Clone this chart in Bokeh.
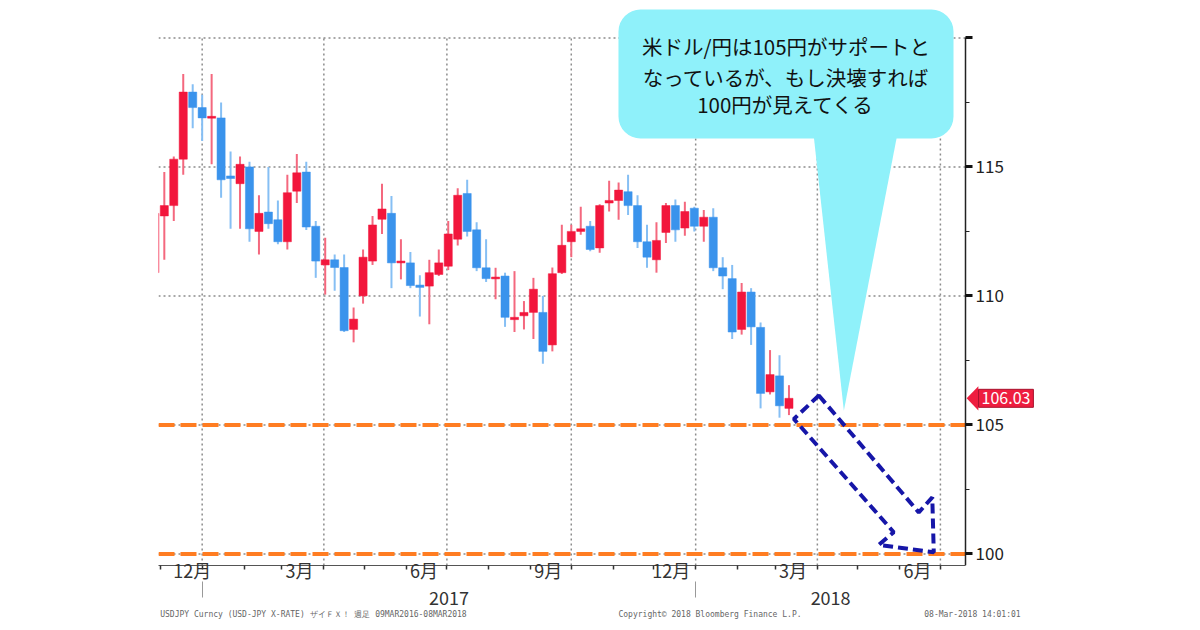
import numpy as np
import pandas as pd
from bokeh.plotting import figure
from bokeh.models import (Range1d, LinearAxis, FixedTicker, BoxAnnotation,
                          PolyAnnotation, Label, ColumnDataSource)
from bokeh.embed import file_html
from bokeh.resources import INLINE

# ---------------- data (weekly USD/JPY candles) ----------------
week_end = pd.date_range("2016-11-25", periods=68, freq="7D")
opens = [110.9, 113.1, 113.5, 115.3, 117.9, 117.3, 116.9, 116.9, 114.65, 114.35,
         115.0, 112.5, 113.25, 112.95, 112.1, 114.06, 114.8, 112.7, 111.2, 111.4,
         111.1, 108.7, 110.0, 111.35, 112.97, 113.2, 111.28, 111.28, 110.42, 110.38,
         110.83, 111.15, 112.2, 113.97, 112.56, 111.09, 110.67, 110.77, 109.08, 109.23,
         109.36, 109.36, 108.1, 110.9, 112.1, 112.5, 112.7, 111.86, 113.6, 113.7,
         114.04, 113.5, 112.1, 111.4, 112.46, 113.5, 112.63, 113.4, 112.7, 113.05,
         111.09, 110.67, 108.7, 110.15, 108.78, 106.28, 106.9, 105.64]
highs = [113.9, 114.8, 115.4, 118.6, 118.2, 117.8, 118.6, 117.5, 115.6, 115.4,
         115.2, 113.9, 115.0, 113.7, 114.7, 115.5, 115.2, 112.9, 112.25, 111.6,
         111.6, 109.55, 111.8, 113.1, 114.35, 113.87, 112.2, 111.7, 110.8, 111.4,
         111.8, 112.9, 114.17, 114.5, 112.85, 112.2, 111.09, 110.9, 110.96, 109.8,
         110.7, 110.0, 111.1, 112.76, 112.76, 113.46, 112.9, 113.55, 114.46, 114.4,
         114.7, 113.9, 112.76, 112.85, 113.6, 113.74, 113.65, 113.46, 113.33, 113.4,
         111.5, 111.2, 110.5, 110.3, 108.97, 107.9, 107.7, 106.54]
lows = [110.8, 111.4, 112.9, 114.7, 116.5, 116.0, 115.1, 113.8, 112.6, 112.6,
        112.1, 111.6, 112.6, 112.0, 111.8, 113.6, 112.55, 110.7, 110.05, 110.2,
        108.6, 108.2, 109.7, 111.2, 112.4, 110.3, 110.64, 110.3, 109.2, 108.9,
        110.77, 111.0, 111.95, 112.3, 110.96, 110.54, 109.87, 108.8, 108.6, 108.7,
        108.33, 107.37, 107.85, 110.85, 111.5, 112.37, 111.73, 111.67, 113.27, 112.95,
        113.14, 111.86, 111.09, 110.9, 112.05, 112.1, 112.33, 112.5, 112.1, 110.96,
        110.26, 108.33, 108.5, 108.1, 105.64, 106.18, 105.28, 105.38]
closes = [113.2, 113.5, 115.3, 117.9, 117.3, 116.9, 116.95, 114.5, 114.55, 115.1,
          112.6, 113.2, 112.8, 112.1, 114.0, 114.77, 112.67, 111.35, 111.4, 111.1,
          108.65, 109.1, 111.5, 112.75, 113.37, 111.28, 111.35, 110.4, 110.33, 110.9,
          111.28, 112.4, 113.9, 112.5, 111.09, 110.67, 110.72, 109.17, 109.17, 109.36,
          110.26, 107.85, 110.86, 111.96, 112.5, 112.6, 111.8, 113.5, 113.7, 114.1,
          113.5, 112.1, 111.5, 112.15, 113.5, 112.56, 113.27, 112.7, 113.05, 111.09,
          110.77, 108.6, 110.15, 108.8, 106.22, 106.95, 105.74, 106.03]
last_price = 106.03
support_levels = [105, 100]

y_ticks = [100, 105, 110, 115, 120]
y_minor = [102.5, 107.5, 112.5, 117.5]
month_label_dates = ["2016-12-14", "2017-03-14", "2017-06-14", "2017-09-14",
                     "2017-12-14", "2018-03-14", "2018-06-14"]
month_labels = ["12月", "3月", "6月", "9月", "12月", "3月", "6月"]
years = [2017, 2018]
quarter_dates = ["2017-01-01", "2017-04-01", "2017-07-01", "2017-10-01",
                 "2018-01-01", "2018-04-01", "2018-07-01"]

bubble_lines = ["米ドル/円は105円がサポートと", "なっているが、もし決壊すれば", "100円が見えてくる"]
footer_texts = ["USDJPY Curncy (USD-JPY X-RATE) ザイＦＸ！ 週足 09MAR2016-08MAR2018",
                "Copyright© 2018 Bloomberg Finance L.P.",
                "08-Mar-2018 14:01:01"]

# ---------------- helpers ----------------
EPOCH = pd.Timestamp("2017-01-01")
def day(d):
    return (pd.Timestamp(d) - EPOCH) / pd.Timedelta(days=1)

X_START = -32.3          # left edge of the chart
X_AXIS = 564.6           # where the price axis sits (mid-July 2018)
X_FRAME_END = 694.0      # frame extends to hold the last-price tag
Y_START, Y_END = 99.55, 121.14
BAR_SHIFT = 2.0
JP = "Noto Sans CJK JP"

RED, BLUE = "#F2163C", "#3A93EC"
RED_W, BLUE_W = "#F4687E", "#86BFF4"
GRID = "#8c8c8c"

xs = [day(d) + BAR_SHIFT for d in week_end]
o = np.array(opens); c = np.array(closes)
up = c >= o
top = np.maximum(o, c); bot = np.minimum(o, c)
thin = (top - bot) < 0.07
mid = (top + bot) / 2
top = np.where(thin, mid + 0.035, top)
bot = np.where(thin, mid - 0.035, bot)

src = ColumnDataSource(dict(
    x=xs, high=highs, low=lows, top=top, bottom=bot,
    body=[RED if u else BLUE for u in up],
    wick=[RED_W if u else BLUE_W for u in up],
))

p = figure(width=1200, height=630, x_range=Range1d(X_START, X_FRAME_END),
           y_range=Range1d(Y_START, Y_END), y_axis_location="right",
           x_axis_location=None, toolbar_location=None, output_backend="svg",
           min_border_left=158, min_border_right=60, min_border_top=8,
           min_border_bottom=65)
p.outline_line_color = None
p.background_fill_color = "white"
p.border_fill_color = "white"
p.xgrid.visible = False
p.ygrid.visible = False

# grid lines (dotted)
p.segment(x0=[X_START] * len(y_ticks), y0=y_ticks, x1=[X_AXIS] * len(y_ticks), y1=y_ticks,
          line_color=GRID, line_dash="2 3", line_width=1.5, level="underlay")
qd = [day(q) for q in quarter_dates]
p.segment(x0=qd, y0=[Y_START] * len(qd), x1=qd, y1=[120] * len(qd),
          line_color=GRID, line_dash="2 3", line_width=1.5, level="underlay")

# right price axis, pinned at X_AXIS
ya = p.yaxis[0]
ya.fixed_location = X_AXIS
ya.ticker = FixedTicker(ticks=y_ticks, minor_ticks=y_minor)
ya.major_label_overrides = {120: ""}
ya.bounds = (Y_START, 120)
ya.axis_line_color = "#222"
ya.axis_line_width = 1.5
ya.major_tick_out = 7
ya.major_tick_in = 0
ya.major_tick_line_width = 3
ya.major_tick_line_color = "#111"
ya.minor_tick_out = 4
ya.minor_tick_in = 0
ya.minor_tick_line_color = "#222"
ya.major_label_text_font = JP
ya.major_label_text_font_size = "17px"
ya.major_label_text_color = "#222"
ya.major_label_standoff = 3

# month axis
clamp = X_START + 25
mticks = [round(max(day(d), clamp), 2) for d in month_label_dates]
mstarts = [day(d) for d in pd.date_range("2016-12-01", "2018-07-01", freq="MS")]
ma = LinearAxis(ticker=FixedTicker(ticks=mticks, minor_ticks=mstarts),
                major_label_overrides={t: l for t, l in zip(mticks, month_labels)})
ma.bounds = (X_START, X_AXIS)
ma.axis_line_color = "#555"
ma.major_tick_out = 0
ma.major_tick_in = 0
ma.major_tick_line_color = None
ma.minor_tick_out = 4
ma.minor_tick_in = 0
ma.minor_tick_line_color = "#333"
ma.minor_tick_line_width = 1.5
ma.major_label_text_font = JP
ma.major_label_text_font_size = "18px"
ma.major_label_text_color = "#333"
ma.major_label_standoff = -13
p.add_layout(ma, "below")

# year axis
ycent = []
for yr in years:
    a = max(day(f"{yr}-01-01"), X_START)
    b = min(day(f"{yr + 1}-01-01"), X_AXIS)
    ycent.append(round((a + b) / 2, 2))
ybounds = [day(f"{yr}-01-01") for yr in years]
yax = LinearAxis(ticker=FixedTicker(ticks=ycent, minor_ticks=ybounds),
                 major_label_overrides={t: str(yr) for t, yr in zip(ycent, years)})
yax.axis_line_color = None
yax.major_tick_out = 0
yax.major_tick_in = 0
yax.major_tick_line_color = None
yax.minor_tick_in = 4
yax.minor_tick_out = 12
yax.minor_tick_line_color = "#999"
yax.minor_tick_line_width = 1
yax.major_label_text_font = JP
yax.major_label_text_font_size = "18px"
yax.major_label_text_color = "#333"
yax.major_label_standoff = -7
p.add_layout(yax, "below")

# footer line (source / copyright / timestamp)
fcent = [82.3, 375.6, 569.7]
fa = LinearAxis(ticker=FixedTicker(ticks=fcent),
                major_label_overrides={t: s for t, s in zip(fcent, footer_texts)})
fa.axis_line_color = None
fa.major_tick_out = 0
fa.major_tick_in = 0
fa.major_tick_line_color = None
fa.minor_tick_line_color = None
fa.major_label_text_font = "DejaVu Sans Mono"
fa.major_label_text_font_size = "8px"
fa.major_label_text_color = "#666"
fa.major_label_standoff = 2
p.add_layout(fa, "below")

# candles
p.segment(x0="x", y0="low", x1="x", y1="high", line_color="wick", line_width=2, source=src)
p.vbar(x="x", width=6.0, top="top", bottom="bottom", fill_color="body",
       line_color="body", line_width=0.5, source=src)

# support lines (orange dashed)
p.segment(x0=[X_START] * len(support_levels), y0=support_levels,
          x1=[X_AXIS] * len(support_levels), y1=support_levels,
          line_color="#FF7D22", line_width=4, line_dash="16 6")

# dashed arrow
arrow_x = [456.1, 530.0, 540.0, 541.1, 500.4, 511.5, 437.6]
arrow_y = [106.14, 101.61, 102.19, 100.06, 100.35, 100.84, 105.23]
p.add_layout(PolyAnnotation(xs=arrow_x, ys=arrow_y, fill_alpha=0, line_alpha=1,
                            line_color="#1616A8", line_width=4, line_dash="10 5"))

# speech bubble
BUB = "#8FF1FA"
p.add_layout(BoxAnnotation(left=307.9, right=555.7, top=121.1, bottom=116.1,
                           fill_color=BUB, fill_alpha=1, line_color=None,
                           border_radius=22))
p.add_layout(PolyAnnotation(xs=[452.1, 514.3, 474.6], ys=[116.3, 116.3, 105.55],
                            fill_color=BUB, fill_alpha=1, line_color=None))
for txt, yv in zip(bubble_lines, [119.70, 118.47, 117.43]):
    p.add_layout(Label(x=431.8, y=yv, text=txt, text_align="center",
                       text_baseline="middle", text_font=JP,
                       text_font_size="20.5px", text_color="#111"))

# last price tag
TAG = "#EE1D3F"
p.add_layout(PolyAnnotation(xs=[X_AXIS + 0.8, X_AXIS + 9.5, X_AXIS + 9.5],
                            ys=[last_price, last_price + 0.47, last_price - 0.47],
                            fill_color=TAG, fill_alpha=1, line_color=None))
p.add_layout(Label(x=X_AXIS, y=last_price, x_offset=13, text=f"{last_price:.2f}",
                   text_align="left", text_baseline="middle", text_font=JP,
                   text_font_size="16px", text_color="white",
                   background_fill_color=TAG, background_fill_alpha=1,
                   border_line_color="#A8102C", border_line_width=1, padding=3))

open("out.html", "w").write(file_html(p, INLINE))
